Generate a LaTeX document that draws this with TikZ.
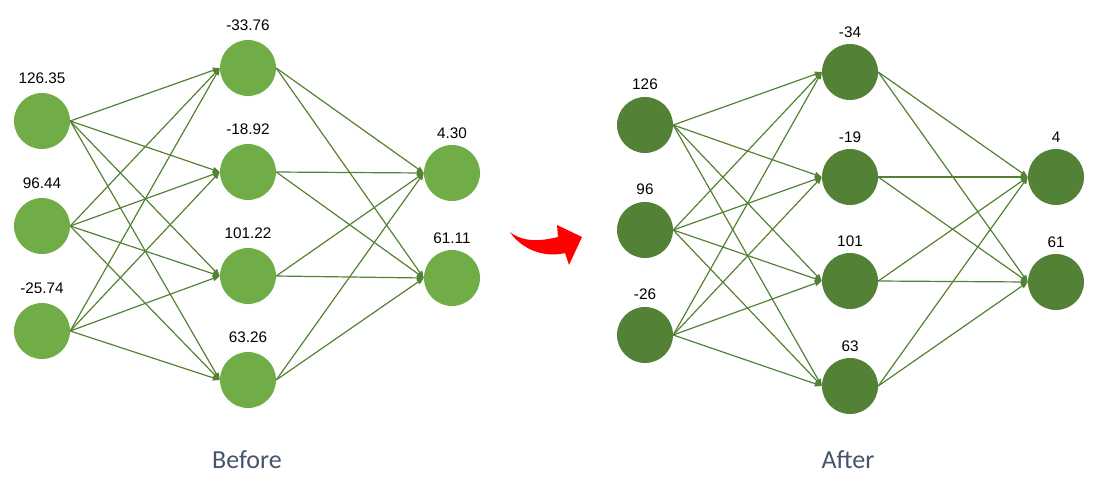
\documentclass[tikz,border=0pt]{standalone}
\usepackage{fontspec}
\setmainfont{Carlito}
\newfontfamily\numfont{Liberation Sans}
\usetikzlibrary{arrows.meta}
\definecolor{gl}{HTML}{70AD47}
\definecolor{gd}{HTML}{538135}
\definecolor{edge}{HTML}{548235}
\definecolor{cap}{HTML}{44546A}
\tikzset{
  neuronL/.style={circle,fill=gl,minimum size=56pt,inner sep=0pt},
  neuronR/.style={circle,fill=gd,minimum size=56pt,inner sep=0pt},
  val/.style={font=\numfont\fontsize{15.3}{17}\selectfont,text=black,inner sep=0pt},
  conn/.style={draw=edge,line width=1.2pt,-{Triangle[length=7pt,width=5.5pt]}},
  caption/.style={font=\fontsize{26}{30}\selectfont,text=cap,inner sep=0pt}
}
\begin{document}
\begin{tikzpicture}[x=1pt,y=-1pt]
\useasboundingbox (0,0) rectangle (1106,488);
% ---------- Before ----------
\foreach \n/\y/\t in {1/121/126.35,2/226/96.44,3/331/-25.74}{
  \node[neuronL] (li\n) at (42,\y) {};
  \node[val] (lil\n) at (42,\y-43) {\t};
}
\foreach \n/\y/\t in {1/68/-33.76,2/172/-18.92,3/276/101.22,4/380/63.26}{
  \node[neuronL] (lh\n) at (248,\y) {};
  \node[val] (lhl\n) at (248,\y-43) {\t};
}
\foreach \n/\y/\t in {1/173/4.30,2/278/61.11}{
  \node[neuronL] (lo\n) at (452,\y) {};
  \node[val] (lol\n) at (452,\y-40) {\t};
}
\foreach \i in {1,2,3}{\foreach \j in {1,2,3,4}{\draw[conn] (li\i.east) -- (lh\j.west);}}
\foreach \i in {1,2,3,4}{\foreach \j in {1,2}{\draw[conn] (lh\i.east) -- (lo\j.west);}}
% ---------- After ----------
\foreach \n/\y/\t in {1/125/126,2/230/96,3/335/-26}{
  \node[neuronR] (ri\n) at (645,\y) {};
  \node[val] (ril\n) at (645,\y-41) {\t};
}
\foreach \n/\y/\t in {1/72/-34,2/177/-19,3/281/101,4/386/63}{
  \node[neuronR] (rh\n) at (850,\y) {};
  \node[val] (rhl\n) at (850,\y-40) {\t};
}
\foreach \n/\y/\t in {1/177/4,2/282/61}{
  \node[neuronR] (ro\n) at (1056,\y) {};
  \node[val] (rol\n) at (1056,\y-40) {\t};
}
\foreach \i in {1,2,3}{\foreach \j in {1,2,3,4}{\draw[conn] (ri\i.east) -- (rh\j.west);}}
\foreach \i in {1,2,3,4}{\foreach \j in {1,2}{\draw[conn] (rh\i.east) -- (ro\j.west);}}
% ---------- red arrow ----------
\fill[red] (510,232) .. controls (525,244) and (545,240) .. (558,237)
  -- (557,225) -- (582,237) -- (569,265) -- (565,253)
  .. controls (545,258) and (522,250) .. (510,232) -- cycle;
% ---------- captions ----------
\node[caption] (before) at (247,460) {Before};
\node[caption] (after) at (848,460) {After};
\end{tikzpicture}
\end{document}
